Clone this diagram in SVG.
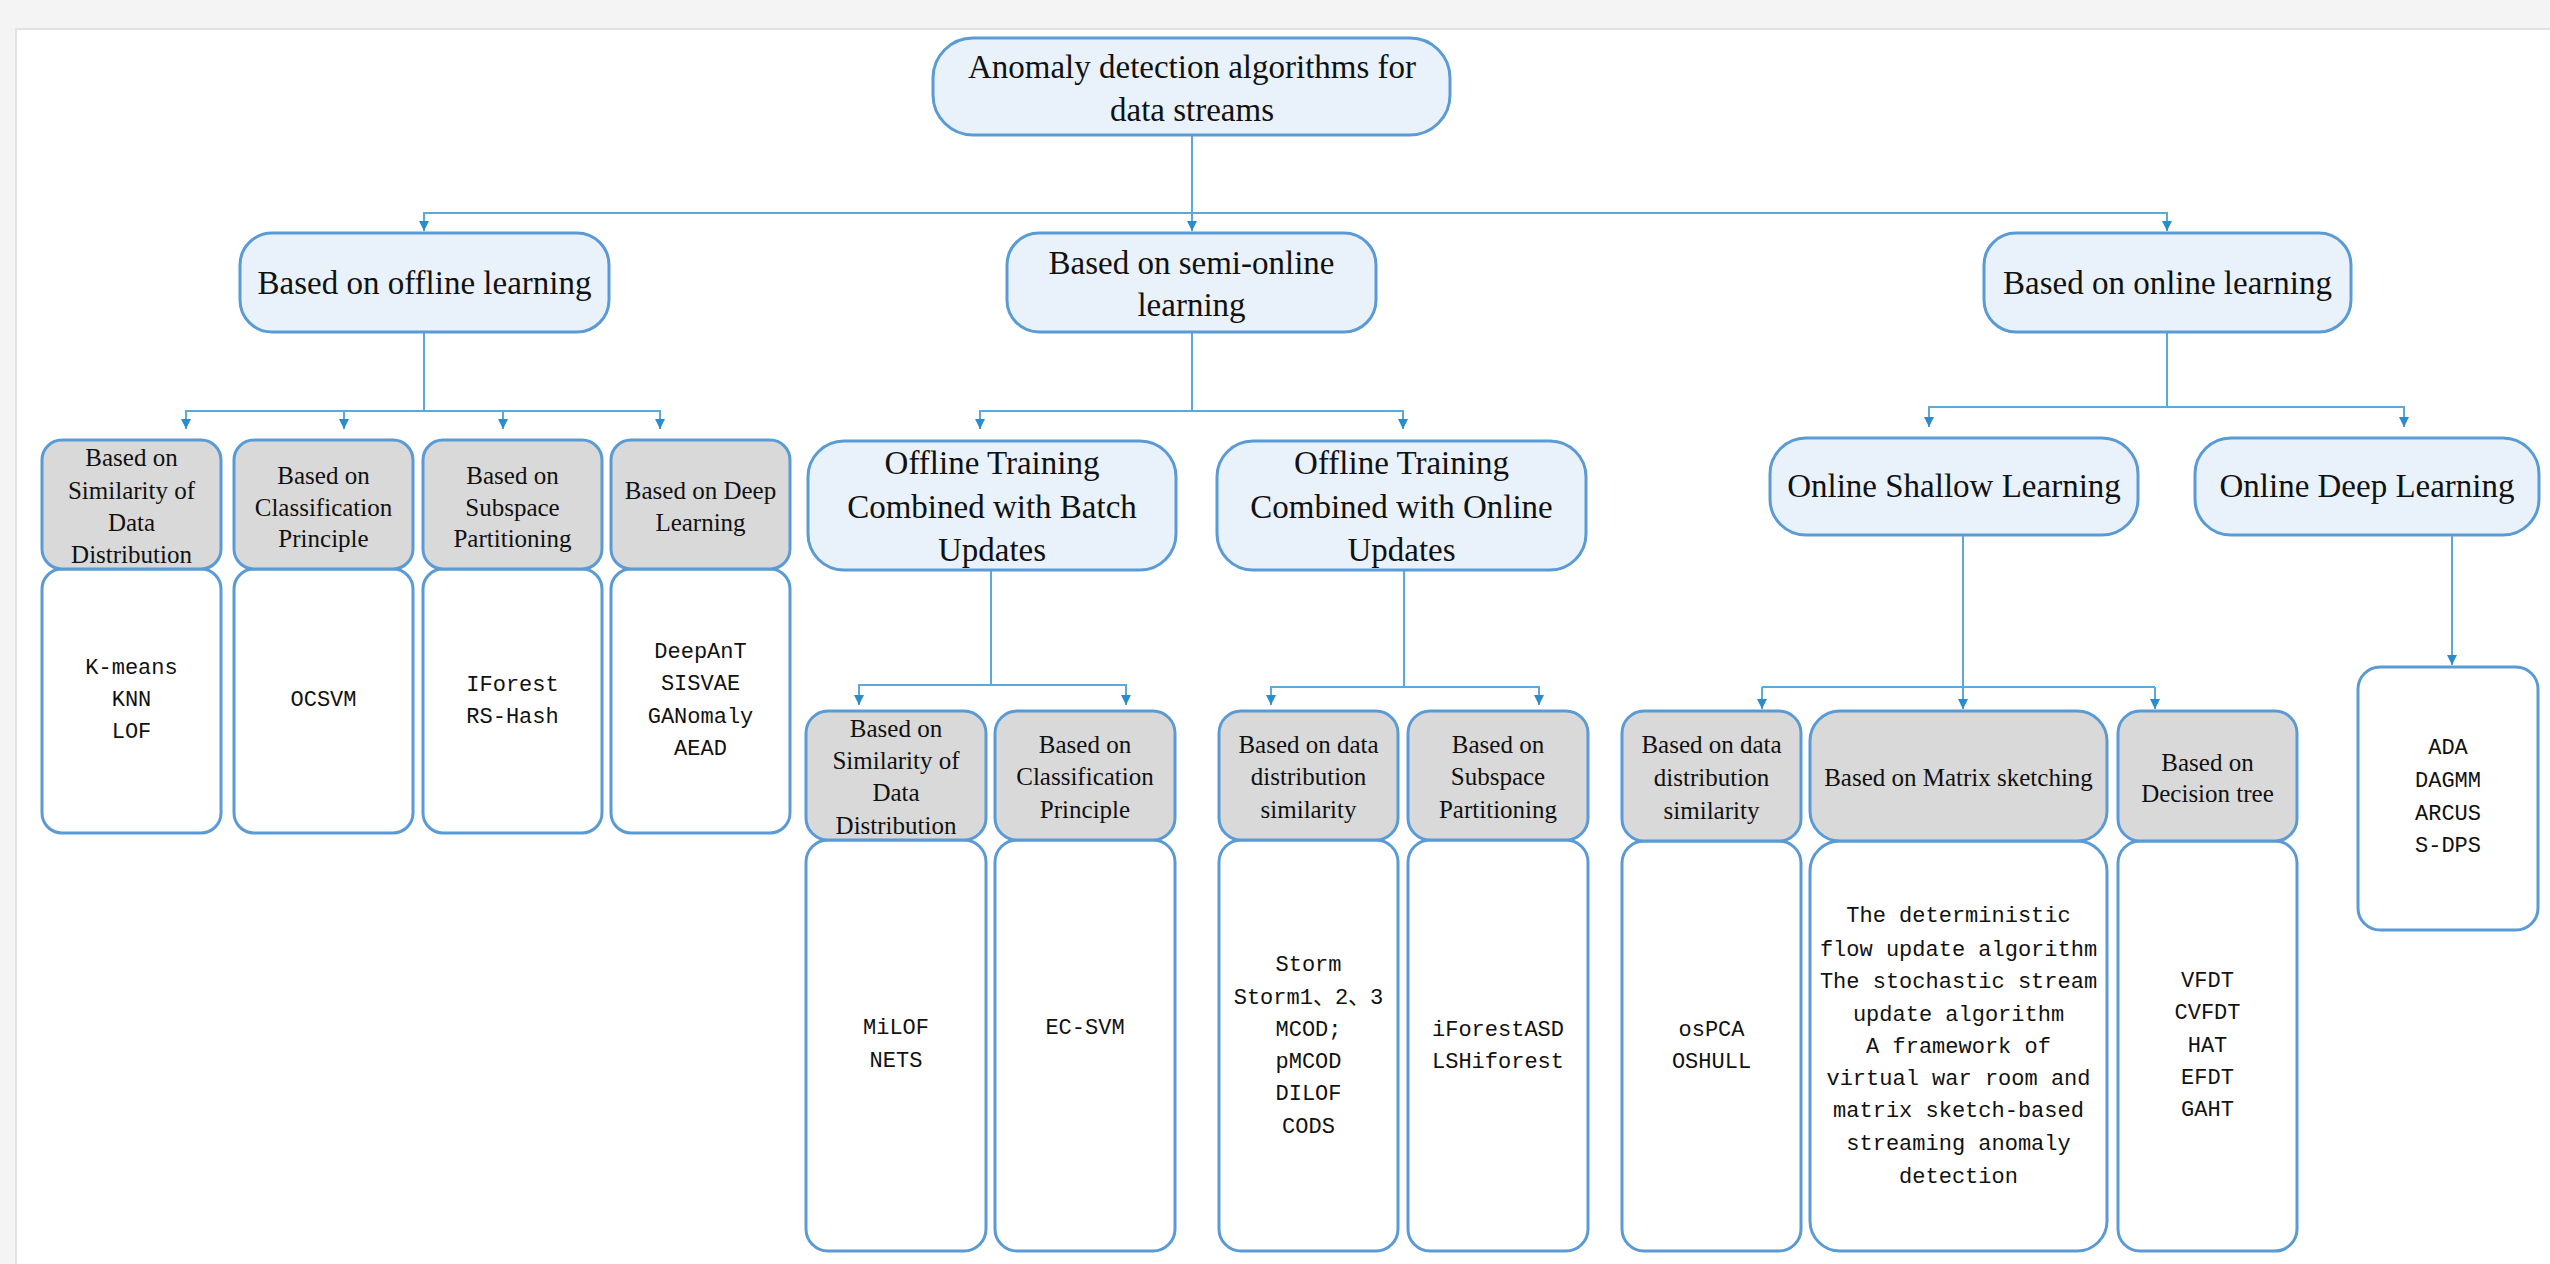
<svg xmlns="http://www.w3.org/2000/svg" width="2550" height="1264" viewBox="0 0 2550 1264">
<style>
.bg{fill:#f4f4f4}
.card{fill:#ffffff;stroke:#e2e2e2;stroke-width:2}
.blue{fill:#e9f1fb;stroke:#5b9bd5;stroke-width:3}
.gray{fill:#d9d9d9;stroke:#5b9bd5;stroke-width:3}
.white{fill:#ffffff;stroke:#5b9bd5;stroke-width:3}
.con{fill:none;stroke:#5aa8dc;stroke-width:2}
.big{font-family:"Liberation Serif","Times New Roman",serif;font-size:33px;fill:#111;text-anchor:middle;dominant-baseline:central}
.hd{font-family:"Liberation Serif","Times New Roman",serif;font-size:25px;fill:#111;text-anchor:middle;dominant-baseline:central}
.mono{font-family:"Liberation Mono","Noto Sans CJK SC",monospace;font-size:22px;fill:#111;text-anchor:middle;dominant-baseline:central}
</style>
<defs>
<marker id="arr" viewBox="0 0 10 10" refX="10" refY="5" markerWidth="10" markerHeight="10" markerUnits="userSpaceOnUse" orient="auto">
<path d="M0,0 L10,5 L0,10 z" fill="#2b8ccc"/>
</marker>
</defs>
<rect class="bg" x="0" y="0" width="2550" height="1264"/>
<rect class="card" x="16" y="29" width="2560" height="1260"/>

<g id="connectors">
<path class="con" d="M1192 135 V213 H424 V231" marker-end="url(#arr)"/>
<path class="con" d="M1192 213 V231" marker-end="url(#arr)"/>
<path class="con" d="M1192 213 H2167 V231" marker-end="url(#arr)"/>

<path class="con" d="M424 332 V411 H186 V429" marker-end="url(#arr)"/>
<path class="con" d="M424 411 H344 V429" marker-end="url(#arr)"/>
<path class="con" d="M424 411 H503 V429" marker-end="url(#arr)"/>
<path class="con" d="M424 411 H660 V429" marker-end="url(#arr)"/>

<path class="con" d="M1192 332 V411 H980 V429" marker-end="url(#arr)"/>
<path class="con" d="M1192 411 H1403 V429" marker-end="url(#arr)"/>

<path class="con" d="M2167 332 V407 H1929 V427" marker-end="url(#arr)"/>
<path class="con" d="M2167 407 H2404 V427" marker-end="url(#arr)"/>

<path class="con" d="M991 570 V685 H859 V705" marker-end="url(#arr)"/>
<path class="con" d="M991 685 H1126 V705" marker-end="url(#arr)"/>

<path class="con" d="M1404 570 V687 H1271 V705" marker-end="url(#arr)"/>
<path class="con" d="M1404 687 H1539 V705" marker-end="url(#arr)"/>

<path class="con" d="M1963 535 V709" marker-end="url(#arr)"/>
<path class="con" d="M1762 687 H2155"/>
<path class="con" d="M1762 687 V709" marker-end="url(#arr)"/>
<path class="con" d="M2155 687 V709" marker-end="url(#arr)"/>

<path class="con" d="M2452 535 V665" marker-end="url(#arr)"/>
</g>

<g id="root">
<rect class="blue" x="933" y="38" width="517" height="97" rx="40"/>
<text class="big" x="1192" y="67">Anomaly detection algorithms for</text>
<text class="big" x="1192" y="110">data streams</text>
</g>

<g id="offline">
<rect class="blue" x="240" y="233" width="369" height="99" rx="32"/>
<text class="big" x="424.5" y="283">Based on offline learning</text>
</g>
<g id="semi">
<rect class="blue" x="1007" y="233" width="369" height="99" rx="32"/>
<text class="big" x="1191.5" y="263">Based on semi-online</text>
<text class="big" x="1191.5" y="305">learning</text>
</g>
<g id="online">
<rect class="blue" x="1984" y="233" width="367" height="99" rx="32"/>
<text class="big" x="2167.5" y="283">Based on online learning</text>
</g>

<g id="off-similarity">
<rect class="white" x="42" y="569" width="179" height="264" rx="20"/>
<rect class="gray" x="42" y="440" width="179" height="129" rx="20"/>
<text class="hd" x="131.5" y="457">Based on</text>
<text class="hd" x="131.5" y="490">Similarity of</text>
<text class="hd" x="131.5" y="522">Data</text>
<text class="hd" x="131.5" y="554">Distribution</text>
<text class="mono" x="131.5" y="668">K-means</text>
<text class="mono" x="131.5" y="700">KNN</text>
<text class="mono" x="131.5" y="732">LOF</text>
</g>
<g id="off-classification">
<rect class="white" x="234" y="569" width="179" height="264" rx="20"/>
<rect class="gray" x="234" y="440" width="179" height="129" rx="20"/>
<text class="hd" x="323.5" y="475">Based on</text>
<text class="hd" x="323.5" y="507">Classification</text>
<text class="hd" x="323.5" y="538">Principle</text>
<text class="mono" x="323.5" y="700">OCSVM</text>
</g>
<g id="off-subspace">
<rect class="white" x="423" y="569" width="179" height="264" rx="20"/>
<rect class="gray" x="423" y="440" width="179" height="129" rx="20"/>
<text class="hd" x="512.5" y="475">Based on</text>
<text class="hd" x="512.5" y="507">Subspace</text>
<text class="hd" x="512.5" y="538">Partitioning</text>
<text class="mono" x="512.5" y="685">IForest</text>
<text class="mono" x="512.5" y="717">RS-Hash</text>
</g>
<g id="off-deep">
<rect class="white" x="611" y="569" width="179" height="264" rx="20"/>
<rect class="gray" x="611" y="440" width="179" height="129" rx="20"/>
<text class="hd" x="700.5" y="490">Based on Deep</text>
<text class="hd" x="700.5" y="522">Learning</text>
<text class="mono" x="700.5" y="652">DeepAnT</text>
<text class="mono" x="700.5" y="684">SISVAE</text>
<text class="mono" x="700.5" y="717">GANomaly</text>
<text class="mono" x="700.5" y="749">AEAD</text>
</g>

<g id="batch">
<rect class="blue" x="808" y="441" width="368" height="129" rx="36"/>
<text class="big" x="992" y="463">Offline Training</text>
<text class="big" x="992" y="507">Combined with Batch</text>
<text class="big" x="992" y="550">Updates</text>
</g>
<g id="online-updates">
<rect class="blue" x="1217" y="441" width="369" height="129" rx="36"/>
<text class="big" x="1401.5" y="463">Offline Training</text>
<text class="big" x="1401.5" y="507">Combined with Online</text>
<text class="big" x="1401.5" y="550">Updates</text>
</g>

<g id="shallow">
<rect class="blue" x="1770" y="438" width="368" height="97" rx="36"/>
<text class="big" x="1954" y="486">Online Shallow Learning</text>
</g>
<g id="deep">
<rect class="blue" x="2195" y="438" width="344" height="97" rx="36"/>
<text class="big" x="2367" y="486">Online Deep Learning</text>
</g>

<g id="semi-similarity">
<rect class="white" x="806" y="840" width="180" height="411" rx="22"/>
<rect class="gray" x="806" y="711" width="180" height="129" rx="22"/>
<text class="hd" x="896" y="728">Based on</text>
<text class="hd" x="896" y="760">Similarity of</text>
<text class="hd" x="896" y="792">Data</text>
<text class="hd" x="896" y="825">Distribution</text>
<text class="mono" x="896" y="1028">MiLOF</text>
<text class="mono" x="896" y="1061">NETS</text>
</g>
<g id="semi-classification">
<rect class="white" x="995" y="840" width="180" height="411" rx="22"/>
<rect class="gray" x="995" y="711" width="180" height="129" rx="22"/>
<text class="hd" x="1085" y="744">Based on</text>
<text class="hd" x="1085" y="776">Classification</text>
<text class="hd" x="1085" y="809">Principle</text>
<text class="mono" x="1085" y="1028">EC-SVM</text>
</g>
<g id="semi-distribution">
<rect class="white" x="1219" y="840" width="179" height="411" rx="22"/>
<rect class="gray" x="1219" y="711" width="179" height="129" rx="22"/>
<text class="hd" x="1308.5" y="744">Based on data</text>
<text class="hd" x="1308.5" y="776">distribution</text>
<text class="hd" x="1308.5" y="809">similarity</text>
<text class="mono" x="1308.5" y="965">Storm</text>
<text class="mono" x="1308.5" y="998">Storm1、2、3</text>
<text class="mono" x="1308.5" y="1030">MCOD;</text>
<text class="mono" x="1308.5" y="1062">pMCOD</text>
<text class="mono" x="1308.5" y="1094">DILOF</text>
<text class="mono" x="1308.5" y="1127">CODS</text>
</g>
<g id="semi-subspace">
<rect class="white" x="1408" y="840" width="180" height="411" rx="22"/>
<rect class="gray" x="1408" y="711" width="180" height="129" rx="22"/>
<text class="hd" x="1498" y="744">Based on</text>
<text class="hd" x="1498" y="776">Subspace</text>
<text class="hd" x="1498" y="809">Partitioning</text>
<text class="mono" x="1498" y="1030">iForestASD</text>
<text class="mono" x="1498" y="1062">LSHiforest</text>
</g>

<g id="on-distribution">
<rect class="white" x="1622" y="841" width="179" height="410" rx="22"/>
<rect class="gray" x="1622" y="711" width="179" height="130" rx="22"/>
<text class="hd" x="1711.5" y="744">Based on data</text>
<text class="hd" x="1711.5" y="777">distribution</text>
<text class="hd" x="1711.5" y="810">similarity</text>
<text class="mono" x="1711.5" y="1030">osPCA</text>
<text class="mono" x="1711.5" y="1062">OSHULL</text>
</g>
<g id="on-matrix">
<rect class="white" x="1810" y="841" width="297" height="410" rx="30"/>
<rect class="gray" x="1810" y="711" width="297" height="130" rx="30"/>
<text class="hd" x="1958.5" y="777">Based on Matrix sketching</text>
<text class="mono" x="1958.5" y="916">The deterministic</text>
<text class="mono" x="1958.5" y="950">flow update algorithm</text>
<text class="mono" x="1958.5" y="982">The stochastic stream</text>
<text class="mono" x="1958.5" y="1015">update algorithm</text>
<text class="mono" x="1958.5" y="1047">A framework of</text>
<text class="mono" x="1958.5" y="1079">virtual war room and</text>
<text class="mono" x="1958.5" y="1111">matrix sketch-based</text>
<text class="mono" x="1958.5" y="1144">streaming anomaly</text>
<text class="mono" x="1958.5" y="1177">detection</text>
</g>
<g id="on-tree">
<rect class="white" x="2118" y="841" width="179" height="410" rx="22"/>
<rect class="gray" x="2118" y="711" width="179" height="130" rx="22"/>
<text class="hd" x="2207.5" y="762">Based on</text>
<text class="hd" x="2207.5" y="793">Decision tree</text>
<text class="mono" x="2207.5" y="981">VFDT</text>
<text class="mono" x="2207.5" y="1013">CVFDT</text>
<text class="mono" x="2207.5" y="1046">HAT</text>
<text class="mono" x="2207.5" y="1078">EFDT</text>
<text class="mono" x="2207.5" y="1110">GAHT</text>
</g>

<g id="on-deep-list">
<rect class="white" x="2358" y="667" width="180" height="263" rx="22"/>
<text class="mono" x="2448" y="748">ADA</text>
<text class="mono" x="2448" y="781">DAGMM</text>
<text class="mono" x="2448" y="814">ARCUS</text>
<text class="mono" x="2448" y="846">S-DPS</text>
</g>
</svg>
